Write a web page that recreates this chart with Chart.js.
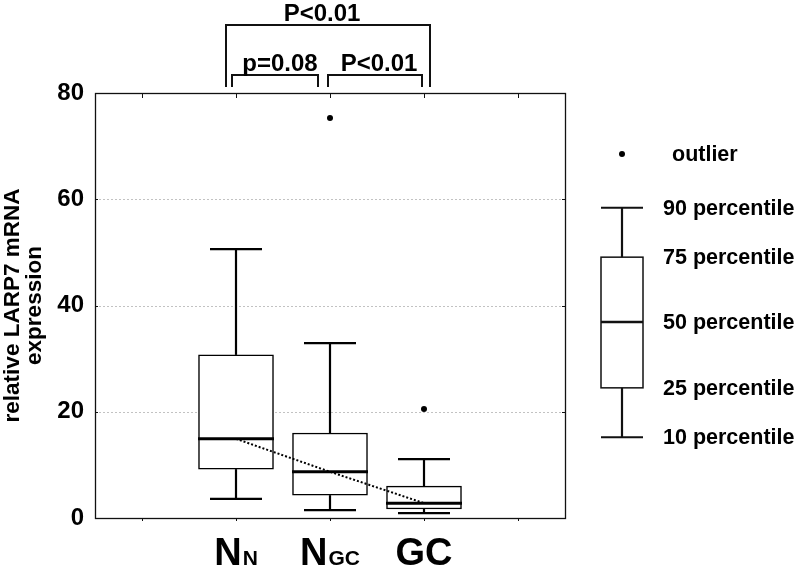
<!DOCTYPE html>
<html><head><meta charset="utf-8">
<script src="https://cdn.jsdelivr.net/npm/chart.js@4/dist/chart.umd.min.js"></script>
<style>html,body{margin:0;padding:0;background:#fff}#wrap{width:800px;height:568px;position:relative}</style>
</head><body><div id="wrap"><canvas id="c" width="800" height="568"></canvas></div>
<script>
// ---- data ----
const categories = ['', 'NN', 'NGC', 'GC', ''];
const labelMain = ['', 'N', 'N', 'GC', ''];
const labelSub  = ['', 'N', 'GC', '', ''];
const p10    = [null, 3.6, 1.5, 0.9, null];
const q1     = [null, 9.2, 4.3, 1.7, null];
const median = [null, 14.9, 8.7, 2.8, null];
const q3     = [null, 30.7, 16.0, 6.0, null];
const p90    = [null, 50.6, 32.9, 11.1, null];
const outliers = [null, null, 75.3, 20.5, null];
const yTicks = [0, 20, 40, 60, 80];
const yTitle = ['relative LARP7 mRNA', 'expression'];
// legend schematic (outlier, p90, q3, median, q1, p10) on the same value scale
const legendValues = [68.5, 58.4, 49.1, 36.9, 24.5, 15.2];
const legendLabels = ['outlier', '90 percentile', '75 percentile', '50 percentile', '25 percentile', '10 percentile'];
const bracketFrom = [1, 1, 2];
const bracketTo   = [3, 2, 3];
const bracketLevel = [2, 1, 1];
const bracketLabels = ['P<0.01', 'p=0.08', 'P<0.01'];

// ---- style ----
const FONT = '"Liberation Sans", Arial, Helvetica, sans-serif';
const bracketInsets = [[-10, 6], [-4, -12], [-2, -2]];
const bracketTextDx = [-6, 5, 4];

const extras = {
  id: 'boxExtras',
  beforeDatasetsDraw(chart) {
    const {ctx, chartArea: a, scales: {x, y}} = chart;
    // dotted grid
    ctx.save();
    ctx.strokeStyle = '#c2c2c2'; ctx.lineWidth = 1; ctx.setLineDash([2, 2]);
    yTicks.forEach(v => {
      if (v === 0 || v === 80) return;
      const py = Math.round(y.getPixelForValue(v)) + 0.5;
      ctx.beginPath(); ctx.moveTo(a.left, py); ctx.lineTo(a.right, py); ctx.stroke();
    });
    ctx.restore();
    // whiskers
    ctx.save();
    ctx.strokeStyle = '#000'; ctx.lineWidth = 2.2;
    const seg = (x1, y1, x2, y2) => { ctx.beginPath(); ctx.moveTo(x1, y1); ctx.lineTo(x2, y2); ctx.stroke(); };
    categories.forEach((c, i) => {
      if (median[i] == null) return;
      const cx = x.getPixelForValue(i), cap = 26;
      seg(cx, y.getPixelForValue(q3[i]), cx, y.getPixelForValue(p90[i]));
      seg(cx - cap, y.getPixelForValue(p90[i]), cx + cap, y.getPixelForValue(p90[i]));
      seg(cx, y.getPixelForValue(q1[i]), cx, y.getPixelForValue(p10[i]));
      seg(cx - cap, y.getPixelForValue(p10[i]), cx + cap, y.getPixelForValue(p10[i]));
    });
    ctx.restore();
  },
  afterDatasetsDraw(chart) {
    const {ctx, chartArea: a, scales: {x, y}} = chart;
    const seg = (x1, y1, x2, y2) => { ctx.beginPath(); ctx.moveTo(x1, y1); ctx.lineTo(x2, y2); ctx.stroke(); };
    ctx.save();
    ctx.strokeStyle = '#000';
    // medians
    ctx.lineWidth = 3;
    categories.forEach((c, i) => {
      if (median[i] == null) return;
      const cx = x.getPixelForValue(i), hw = 38;
      const py = y.getPixelForValue(median[i]);
      seg(cx - hw, py, cx + hw, py);
    });
    // frame
    ctx.lineWidth = 1.3; ctx.strokeStyle = '#111';
    ctx.strokeRect(a.left + 0.5, a.top + 0.5, a.right - a.left, a.bottom - a.top);
    // tick marks
    ctx.lineWidth = 1;
    categories.forEach((c, i) => {
      const px = Math.round(x.getPixelForValue(i)) + 0.5;
      seg(px, a.top, px, a.top + 5);
      seg(px, a.bottom, px, a.bottom + 3);
    });
    yTicks.forEach(v => {
      const py = Math.round(y.getPixelForValue(v)) + 0.5;
      seg(a.left, py, a.left + 3, py);
      seg(a.right, py, a.right - 3, py);
    });
    // brackets
    ctx.lineWidth = 2;
    ctx.fillStyle = '#000';
    ctx.font = 'bold 24px ' + FONT;
    ctx.textAlign = 'center'; ctx.textBaseline = 'alphabetic';
    bracketLabels.forEach((lab, k) => {
      const x1 = x.getPixelForValue(bracketFrom[k]) + bracketInsets[k][0];
      const x2 = x.getPixelForValue(bracketTo[k]) + bracketInsets[k][1];
      const by = bracketLevel[k] === 2 ? a.top - 68 : a.top - 18;
      const legEnd = a.top - 6;
      ctx.beginPath(); ctx.moveTo(x1, legEnd); ctx.lineTo(x1, by); ctx.lineTo(x2, by); ctx.lineTo(x2, legEnd); ctx.stroke();
      ctx.fillText(lab, (x1 + x2) / 2 + bracketTextDx[k], by - 4);
    });
    // x labels (main + subscript)
    ctx.textAlign = 'left';
    const base = a.bottom + 47;
    categories.forEach((c, i) => {
      if (!labelMain[i]) return;
      ctx.font = 'bold 38px ' + FONT;
      const w1 = ctx.measureText(labelMain[i]).width;
      ctx.font = 'bold 21px ' + FONT;
      const w2 = labelSub[i] ? ctx.measureText(labelSub[i]).width + 1 : 0;
      const sx = x.getPixelForValue(i) - (w1 + w2) / 2;
      ctx.font = 'bold 38px ' + FONT;
      ctx.fillText(labelMain[i], sx, base);
      if (labelSub[i]) { ctx.font = 'bold 21px ' + FONT; ctx.fillText(labelSub[i], sx + w1 + 1, base); }
    });
    // legend schematic
    const lx = a.right + 57, lh = 21, lc = 21;
    const [vo, v90, v75, v50, v25, v10] = legendValues.map(v => y.getPixelForValue(v));
    ctx.lineWidth = 2.2;
    seg(lx, v75, lx, v90); seg(lx - lc, v90, lx + lc, v90);
    seg(lx, v25, lx, v10); seg(lx - lc, v10, lx + lc, v10);
    ctx.lineWidth = 1.5;
    ctx.strokeRect(lx - lh, v75, 2 * lh, v25 - v75);
    ctx.lineWidth = 2.6;
    seg(lx - lh, v50, lx + lh, v50);
    ctx.beginPath(); ctx.arc(lx, vo, 3, 0, Math.PI * 2); ctx.fill();
    ctx.font = 'bold 21.5px ' + FONT; ctx.textBaseline = 'middle';
    legendLabels.forEach((lab, k) => {
      const tx = k === 0 ? a.right + 107 : a.right + 98;
      ctx.fillText(lab, tx, y.getPixelForValue(legendValues[k]) + 1);
    });
    ctx.restore();
  }
};

new Chart(document.getElementById('c'), {
  type: 'bar',
  data: {
    labels: categories,
    datasets: [
      {
        type: 'line', data: outliers, showLine: false, order: 0,
        pointRadius: 3, pointBackgroundColor: '#000', pointBorderColor: '#000', pointBorderWidth: 0
      },
      {
        type: 'line', data: median, order: 1, borderColor: '#000', borderWidth: 2,
        borderDash: [2, 2], pointRadius: 0, fill: false, spanGaps: false
      },
      {
        type: 'bar', order: 3,
        data: categories.map((c, i) => q1[i] == null ? null : [q1[i], q3[i]]),
        backgroundColor: '#fff', borderColor: '#000', borderWidth: 1.5,
        borderSkipped: false, barThickness: 75, grouped: false
      }
    ]
  },
  options: {
    responsive: false, animation: false, devicePixelRatio: 1,
    layout: {padding: {left: 0, right: 235, top: 93, bottom: 0}},
    plugins: {legend: {display: false}, tooltip: {enabled: false}},
    scales: {
      x: {
        type: 'category', offset: true,
        grid: {display: false, drawTicks: false}, border: {display: false},
        ticks: {display: false},
        afterFit(s) { s.height = 50; }
      },
      y: {
        min: 0, max: 80,
        grid: {display: false, drawTicks: false}, border: {display: false},
        ticks: {stepSize: 20, padding: 11, color: '#000', font: {family: FONT, size: 24, weight: 'bold'}},
        title: {display: true, text: yTitle, color: '#000', padding: {top: 2, bottom: 0},
                font: {family: FONT, size: 22.5, weight: 'bold', lineHeight: 0.98}},
        afterFit(s) { s.width = 95; }
      }
    }
  },
  plugins: [extras]
});
</script>
</body></html>
